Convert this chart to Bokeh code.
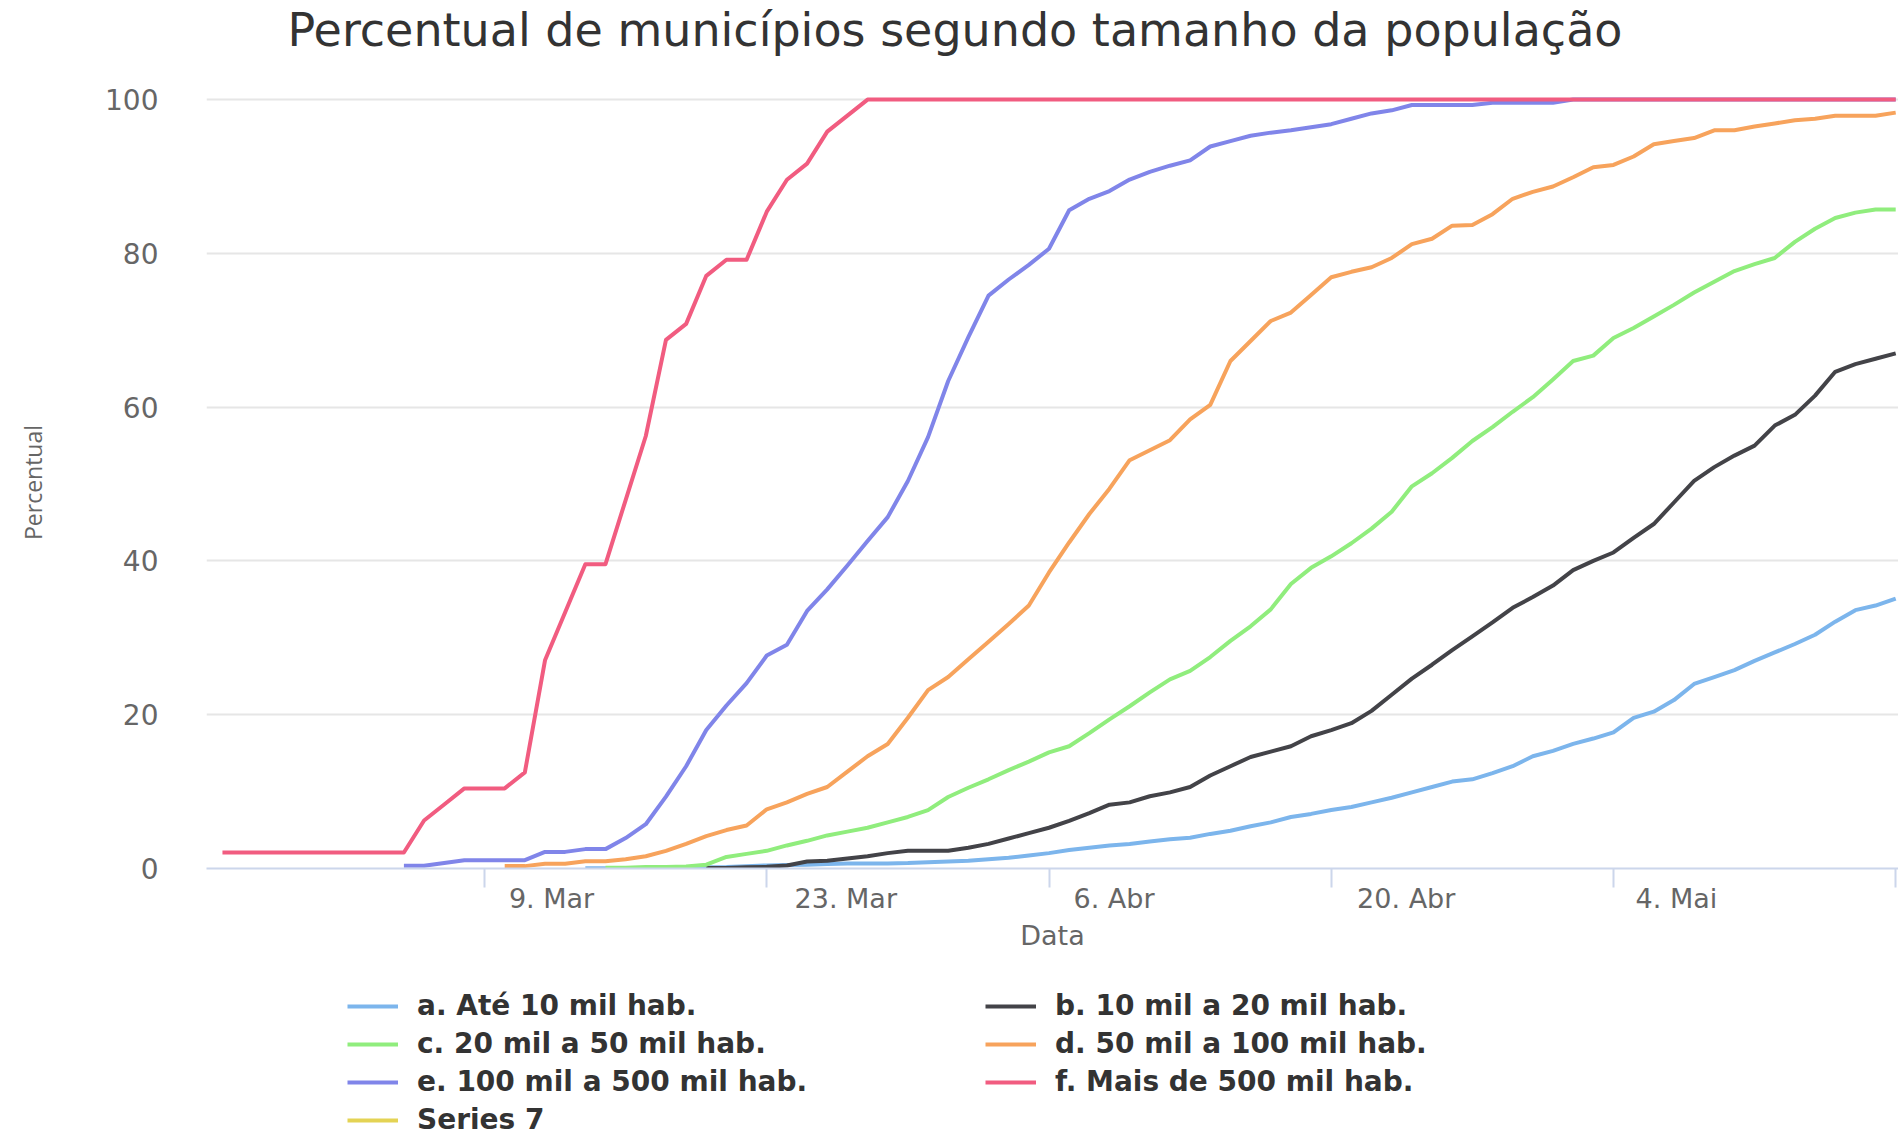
from datetime import datetime
import pandas as pd
from bokeh.plotting import figure
from bokeh.layouts import column
from bokeh.models import (Range1d, FixedTicker, Legend, LegendItem, LinearAxis, Title,
                          CustomJSTickFormatter)
from bokeh.embed import file_html
from bokeh.resources import INLINE

# ---------------- data ----------------
title_text = "Percentual de municípios segundo tamanho da população"
y_label = "Percentual"
x_label = "Data"

series_names = [
    "a. Até 10 mil hab.",
    "b. 10 mil a 20 mil hab.",
    "c. 20 mil a 50 mil hab.",
    "d. 50 mil a 100 mil hab.",
    "e. 100 mil a 500 mil hab.",
    "f. Mais de 500 mil hab.",
    "Series 7",
]
series_colors = ["#7cb5ec", "#434348", "#90ed7d", "#f7a35c", "#8085e9", "#f15c80", "#e4d354"]
series_starts = ["2020-03-14", "2020-03-20", "2020-03-15", "2020-03-10", "2020-03-05", "2020-02-25", "2020-03-01"]

a_vals = [0.04, 0.04, 0.04, 0.08, 0.08, 0.12, 0.16, 0.2, 0.3, 0.4, 0.45, 0.5, 0.6, 0.65, 0.66, 0.66,
          0.7, 0.8, 0.9, 1.0, 1.2, 1.4, 1.7, 2.0, 2.4, 2.7, 3.0, 3.2, 3.5, 3.8, 4.0, 4.5, 4.9, 5.5,
          6.0, 6.7, 7.1, 7.6, 8.0, 8.6, 9.2, 9.9, 10.6, 11.3, 11.6, 12.4, 13.3, 14.6, 15.3, 16.2,
          16.9, 17.7, 19.6, 20.4, 21.9, 24.0, 24.9, 25.8, 27.0, 28.1, 29.2, 30.4, 32.1, 33.6, 34.2, 35.1]
b_vals = [0.07, 0.07, 0.15, 0.22, 0.4, 0.9, 1.0, 1.3, 1.6, 2.0, 2.3, 2.3, 2.3, 2.7, 3.2, 3.9, 4.6,
          5.3, 6.2, 7.2, 8.3, 8.6, 9.4, 9.9, 10.6, 12.1, 13.3, 14.5, 15.2, 15.9, 17.2, 18.0, 18.9,
          20.5, 22.6, 24.7, 26.5, 28.4, 30.2, 32.0, 33.9, 35.3, 36.8, 38.8, 40.0, 41.1, 43.0, 44.8,
          47.6, 50.4, 52.2, 53.7, 55.0, 57.6, 59.0, 61.5, 64.6, 65.6, 66.3, 67.0]
c_vals = [0.09, 0.09, 0.18, 0.18, 0.27, 0.5, 1.5, 1.9, 2.3, 3.0, 3.6, 4.3, 4.8, 5.3, 6.0, 6.7, 7.6,
          9.3, 10.5, 11.6, 12.8, 13.9, 15.1, 15.9, 17.6, 19.4, 21.1, 22.9, 24.6, 25.7, 27.5, 29.6,
          31.5, 33.7, 37.0, 39.1, 40.6, 42.3, 44.2, 46.4, 49.7, 51.4, 53.4, 55.6, 57.4, 59.4, 61.3,
          63.6, 66.0, 66.7, 69.0, 70.3, 71.8, 73.3, 74.9, 76.3, 77.7, 78.6, 79.4, 81.5, 83.2, 84.6,
          85.3, 85.7, 85.7]
d_vals = [0.31, 0.31, 0.62, 0.62, 0.93, 0.93, 1.2, 1.6, 2.3, 3.2, 4.2, 5.0, 5.6, 7.7, 8.6, 9.7,
          10.6, 12.6, 14.6, 16.2, 19.6, 23.2, 24.9, 27.2, 29.5, 31.8, 34.2, 38.5, 42.4, 46.1, 49.4,
          53.1, 54.4, 55.7, 58.4, 60.3, 66.0, 68.6, 71.2, 72.3, 74.6, 76.9, 77.6, 78.2, 79.4, 81.2,
          81.9, 83.6, 83.7, 85.1, 87.1, 88.0, 88.7, 89.9, 91.2, 91.5, 92.6, 94.2, 94.6, 95.0, 96.0,
          96.0, 96.5, 96.9, 97.3, 97.5, 97.9, 97.9, 97.9, 98.3]
e_vals = [0.36, 0.36, 0.72, 1.08, 1.08, 1.08, 1.08, 2.16, 2.16, 2.52, 2.52, 3.96, 5.76, 9.35, 13.3,
          18.0, 21.2, 24.1, 27.7, 29.1, 33.5, 36.3, 39.4, 42.6, 45.7, 50.4, 56.1, 63.4, 69.1, 74.5,
          76.6, 78.5, 80.6, 85.6, 87.1, 88.1, 89.6, 90.6, 91.4, 92.1, 93.9, 94.6, 95.3, 95.7, 96.0,
          96.4, 96.8, 97.5, 98.2, 98.6, 99.3, 99.3, 99.3, 99.3, 99.6, 99.6, 99.6, 99.6,
          100.0, 100.0, 100.0, 100.0, 100.0, 100.0, 100.0, 100.0, 100.0, 100.0, 100.0, 100.0,
          100.0, 100.0, 100.0, 100.0, 100.0]
f_vals = [2.08, 2.08, 2.08, 2.08, 2.08, 2.08, 2.08, 2.08, 2.08, 2.08, 6.25, 8.33, 10.42, 10.42,
          10.42, 12.5, 27.08, 33.33, 39.58, 39.58, 47.92, 56.25, 68.75, 70.83, 77.08, 79.17, 79.17,
          85.42, 89.58, 91.67, 95.83, 97.92,
          100.0, 100.0, 100.0, 100.0, 100.0, 100.0, 100.0, 100.0, 100.0, 100.0, 100.0, 100.0, 100.0,
          100.0, 100.0, 100.0, 100.0, 100.0, 100.0, 100.0, 100.0, 100.0, 100.0, 100.0, 100.0, 100.0,
          100.0, 100.0, 100.0, 100.0, 100.0, 100.0, 100.0, 100.0, 100.0, 100.0, 100.0, 100.0, 100.0,
          100.0, 100.0, 100.0, 100.0, 100.0, 100.0, 100.0, 100.0, 100.0, 100.0, 100.0, 100.0, 100.0]
g_vals = []  # Series 7 has no points

series_values = [a_vals, b_vals, c_vals, d_vals, e_vals, f_vals, g_vals]

x_tick_dates = ["2020-03-09", "2020-03-23", "2020-04-06", "2020-04-20", "2020-05-04", "2020-05-18"]
x_tick_labels = ["9. Mar", "23. Mar", "6. Abr", "20. Abr", "4. Mai"]
y_ticks = [0, 20, 40, 60, 80, 100]

# ---------------- main figure ----------------
FONT = "DejaVu Sans"
W = 1898
LEFT = 206
FRAME_W = W - LEFT
x_start = datetime(2020, 2, 24, 5, 0)
x_end = datetime(2020, 5, 18, 3, 20)

p = figure(
    width=W, height=976, title=None,
    x_axis_type="datetime",
    x_range=Range1d(start=x_start, end=x_end),
    y_range=Range1d(start=0, end=100.4),
    output_backend="svg", toolbar_location=None,
    min_border_left=LEFT, min_border_right=0, min_border_top=96, min_border_bottom=108,
    background_fill_color="white", border_fill_color="white",
)
p.outline_line_color = None
xax = p.below[0]   # the datetime axis (tick marks only)
yax = p.left[0]

tick_ms = [pd.Timestamp(d).value // 10**6 for d in x_tick_dates]

# spacer between the frame and the title, then the title itself
spacer = LinearAxis(ticker=FixedTicker(ticks=tick_ms[:1]), formatter=CustomJSTickFormatter(code="return ''"),
                    axis_line_color=None, major_tick_line_color=None, minor_tick_line_color=None,
                    major_tick_out=40, major_tick_in=0, major_label_text_font_size="0px",
                    major_label_standoff=0)
p.add_layout(spacer, "above")
p.add_layout(Title(text=title_text, align="left", offset=81, vertical_align="bottom", standoff=0,
                   text_font=FONT, text_font_size="46px", text_font_style="normal",
                   text_color="#333333"), "above")

# grid
p.xgrid.grid_line_color = None
p.ygrid.grid_line_color = "#e6e6e6"
p.ygrid.grid_line_width = 2

# y axis
yax.ticker = FixedTicker(ticks=y_ticks)
yax.axis_line_color = None
yax.major_tick_line_color = None
yax.minor_tick_line_color = None
yax.major_tick_out = 0
yax.major_tick_in = 0
yax.major_label_standoff = 48
yax.major_label_text_font = FONT
yax.major_label_text_font_size = "28px"
yax.major_label_text_color = "#666666"
yax.axis_label = y_label
yax.axis_label_text_font = "Open Sans"
yax.axis_label_text_font_size = "23px"
yax.axis_label_text_font_style = "normal"
yax.axis_label_text_color = "#666666"
yax.axis_label_standoff = 53

# x axis: tick marks only (at the real dates)
xax.ticker = FixedTicker(ticks=tick_ms)
xax.formatter = CustomJSTickFormatter(code="return ''")
xax.major_label_text_font_size = "0px"
xax.major_label_standoff = 0
xax.axis_line_color = "#ccd6eb"
xax.axis_line_width = 2
xax.major_tick_line_color = "#ccd6eb"
xax.major_tick_line_width = 2
xax.major_tick_out = 19
xax.major_tick_in = 0
xax.minor_tick_line_color = None

# x axis labels: drawn to the right of each tick mark, as in the original
ms_per_px = (pd.Timestamp(x_end).value - pd.Timestamp(x_start).value) / 10**6 / FRAME_W
label_shift_px = [67, 79, 65, 75, 63]
label_pos = [t + s * ms_per_px for t, s in zip(tick_ms[:len(x_tick_labels)], label_shift_px)]
lab_axis = LinearAxis(
    ticker=FixedTicker(ticks=label_pos),
    formatter=CustomJSTickFormatter(args=dict(pos=label_pos, labels=x_tick_labels), code="""
        let best = -1, bd = Infinity;
        for (let i = 0; i < pos.length; i++) {
            const dd = Math.abs(pos[i] - tick);
            if (dd < bd) { bd = dd; best = i; }
        }
        return bd < 3600000 ? labels[best] : '';
    """),
    axis_line_color=None, major_tick_line_color=None, minor_tick_line_color=None,
    major_tick_out=0, major_tick_in=0, major_label_standoff=-5,
    major_label_text_font=FONT, major_label_text_font_size="27px",
    major_label_text_color="#666666",
    axis_label=x_label, axis_label_text_font=FONT, axis_label_text_font_size="27px",
    axis_label_text_font_style="normal", axis_label_text_color="#666666",
    axis_label_standoff=3,
)
p.add_layout(lab_axis, "below")

# lines
for name, color, start, vals in zip(series_names, series_colors, series_starts, series_values):
    dates = pd.date_range(start=start, periods=len(vals), freq="D")
    p.line(x=list(dates), y=vals, line_color=color, line_width=4, line_join="round")

# ---------------- legend (own strip below the chart) ----------------
pl = figure(width=W, height=160, x_range=Range1d(0, 1), y_range=Range1d(0, 1),
            x_axis_location=None, y_axis_location=None, toolbar_location=None, title=None,
            output_backend="svg", min_border_left=LEFT, min_border_top=0,
            min_border_right=0, min_border_bottom=0,
            background_fill_color="white", border_fill_color="white")
pl.outline_line_color = None
pl.xgrid.visible = False
pl.ygrid.visible = False

items = []
for name, color in zip(series_names, series_colors):
    # no visible points here: one missing value, only so that the legend draws its swatch
    r = pl.line(x=[float("nan")], y=[float("nan")], line_color=color, line_width=4)
    items.append(LegendItem(label=name, renderers=[r]))

legend = Legend(items=items, orientation="horizontal", ncols=2,
                location=(141, 0), padding=0, spacing=5, margin=0,
                glyph_width=51, glyph_height=20, label_standoff=19, label_width=563,
                label_text_font=FONT, label_text_font_style="bold", label_text_font_size="28px",
                label_text_color="#333333", border_line_color=None, background_fill_alpha=0,
                click_policy="none")
pl.add_layout(legend, "center")

layout = column(p, pl, spacing=0)
open("out.html", "w").write(file_html(layout, INLINE))
